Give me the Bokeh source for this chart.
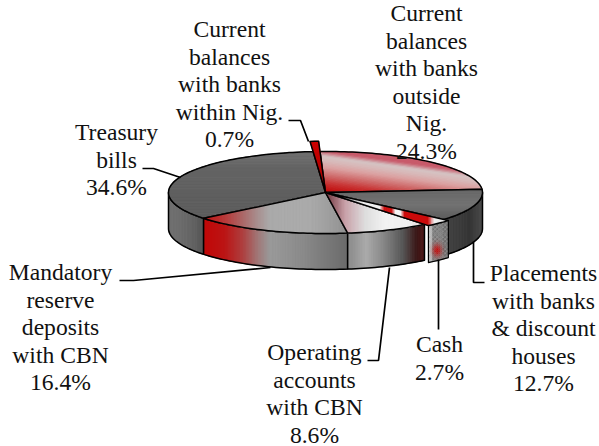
import math
from bokeh.plotting import figure
from bokeh.models import Range1d, ColumnDataSource
from bokeh.core.properties import value
from bokeh.embed import file_html
from bokeh.resources import INLINE

# ---------- data ----------
shares = [24.3, 12.7, 2.7, 8.6, 16.4, 34.6, 0.7]
keys = ["outside", "placements", "cash", "operating", "mandatory", "treasury", "within"]
label_lines = {
    "outside": ["Current", "balances", "with banks", "outside", "Nig."],
    "placements": ["Placements", "with banks", "& discount", "houses"],
    "cash": ["Cash"],
    "operating": ["Operating", "accounts", "with CBN"],
    "mandatory": ["Mandatory", "reserve", "deposits", "with CBN"],
    "treasury": ["Treasury", "bills"],
    "within": ["Current", "balances", "with banks", "within Nig."],
}
# label layout: centre x, first baseline y
label_pos = {
    "outside": (426, 22), "placements": (543, 282), "cash": (439, 353),
    "operating": (314, 361), "mandatory": (60, 281), "treasury": (116, 141),
    "within": (229, 38),
}
LINE_H = 27.5
TEXT_DY = -9.5
leaders = [
    [(142, 168), (153, 168), (180, 177)],
    [(288, 120), (300, 120), (308, 141)],
    [(119, 280), (133, 280), (270, 267)],
    [(367, 360), (378, 360), (389, 267)],
    [(438, 329), (438, 259)],
    [(484, 282), (473, 282), (473, 241)],
]

# ---------- pie geometry ----------
CX, CY, RX, RY, DEPTH = 325, 192, 157, 41, 36
START = -2.0
radial = {"within": 1.25, "cash": 1.04}

# gradient: (dx, dy, [(t, colour), ...])
top_grad = {
    "outside": (-0.14, 1, [(106, "#c85a6a"), (111, "#d5c4c4"), (116, "#d8b8b8"), (122, "#dba0a0"), (130, "#cf6a6a"), (138, "#c83030"), (146, "#c00808")]),
    "placements": (0, 1, [(188, "#666666"), (205, "#727272"), (220, "#5a5a5a")]),
    "cash": (1, 0, [(325, "#555555"), (345, "#999999"), (363, "#eeeeee"), (380, "#f2f2f2"), (384, "#cc1111"), (392, "#cc1111"), (395, "#f4f4f4"), (401, "#f4f4f4"), (404, "#cc0a0a"), (428, "#cc0a0a"), (434, "#f0f0f0"), (450, "#dddddd")]),
    "operating": (1, 0, [(328, "#7a4048"), (345, "#c8a0a8"), (365, "#dddddd"), (385, "#f2f2f2"), (410, "#eeeeee"), (428, "#e0c8c8")]),
    "mandatory": (1, 0, [(207, "#c01818"), (225, "#b83a3a"), (243, "#aa6868"), (258, "#a89090"), (270, "#aaaaaa"), (310, "#aaaaaa"), (350, "#909090")]),
    "treasury": (0, 1, [(151, "#707070"), (170, "#636363"), (220, "#5c5c5c")]),
    "within": (0, 1, [(141, "#d00000"), (192, "#a00000")]),
}
wall_grad = {
    "placements": (1, 0, [(445, "#444444"), (470, "#353535"), (482, "#4a4a4a")]),
    "operating": (1, 0, [(352, "#909090"), (366, "#aaaaaa"), (383, "#888888"), (403, "#555555"), (417, "#3a1515"), (430, "#602020")]),
    "mandatory": (1, 0, [(207, "#c00808"), (225, "#bb1515"), (243, "#ad4040"), (258, "#a07878"), (270, "#999999"), (290, "#909090"), (310, "#858585"), (340, "#707070"), (352, "#666666")]),
    "treasury": (1, 0, [(168, "#727272"), (190, "#666666"), (207, "#505050")]),
}


def rgb(h):
    return tuple(int(h[i:i + 2], 16) for i in (1, 3, 5))


def mix(a, b, f):
    a, b = rgb(a), rgb(b)
    return "#%02x%02x%02x" % tuple(int(round(a[i] + (b[i] - a[i]) * f)) for i in range(3))


def clip(poly, fn, t, keep_above):
    out = []
    n = len(poly)
    for i in range(n):
        p, q = poly[i], poly[(i + 1) % n]
        vp, vq = fn(p) - t, fn(q) - t
        if not keep_above:
            vp, vq = -vp, -vq
        if vp >= 0:
            out.append(p)
        if (vp >= 0) != (vq >= 0):
            f = vp / (vp - vq)
            out.append((p[0] + (q[0] - p[0]) * f, p[1] + (q[1] - p[1]) * f))
    return out


xs, ys, fills, falpha, lines, lwidth = [], [], [], [], [], []


def emit(poly, fill, alpha, line, lw):
    xs.append([p[0] for p in poly])
    ys.append([p[1] for p in poly])
    fills.append(fill)
    falpha.append(alpha)
    lines.append(line)
    lwidth.append(lw)


def paint(poly, grad):
    dx, dy, stops = grad
    fn = lambda p: dx * p[0] + dy * p[1]
    lo, hi = min(map(fn, poly)), max(map(fn, poly))
    bands = [(-1e9, stops[0][0], stops[0][1])]
    for (t0, c0), (t1, c1) in zip(stops, stops[1:]):
        n = max(1, int(math.ceil((t1 - t0) / 1.5)))
        for k in range(n):
            a = t0 + (t1 - t0) * k / n
            b = t0 + (t1 - t0) * (k + 1) / n
            bands.append((a, b, mix(c0, c1, (k + .5) / n)))
    bands.append((stops[-1][0], 1e9, stops[-1][1]))
    for a, b, col in bands:
        if b < lo or a > hi:
            continue
        piece = clip(clip(poly, fn, a, True), fn, b, False)
        if len(piece) >= 3:
            emit(piece, col, 1, col, 1.0)


def rim(deg, k=1.0):
    r = math.radians(deg)
    return (CX + RX * k * math.sin(r), CY - RY * k * math.cos(r))


def arc(a, b, k=1.0):
    n = max(2, int(abs(b - a) / 1.5) + 1)
    return [rim(a + (b - a) * i / n, k) for i in range(n + 1)]


def outline(poly, lw=1.5):
    emit(poly, "#000000", 0, "#000000", lw)


# slice angles from the shares
angles = {}
a = START
for key, v in zip(keys, shares):
    angles[key] = (a, a + v * 3.6)
    a += v * 3.6

# back-to-front draw order
order = ["treasury", "outside", "placements", "mandatory", "operating", "cash", "within"]
for key in order:
    a0, a1 = angles[key]
    k = radial.get(key, 1.0)
    # wall (only the front half of the rim shows)
    v0, v1 = max(a0, 90), min(a1, 270)
    if v1 > v0 and key in wall_grad:
        front = arc(v0, v1, k)
        wall = front + [(x, y + DEPTH) for x, y in reversed(front)]
        paint(wall, wall_grad[key])
        outline(wall)
    if key == "cash":
        front = arc(a0, a1, k)
        wall = front + [(x, y + DEPTH + 1) for x, y in reversed(front)]
        xmin, xmax = min(p[0] for p in wall), max(p[0] for p in wall)
        ymin, ymax = min(p[1] for p in wall), max(p[1] for p in wall)
        fx = lambda p: p[0]
        fy = lambda p: p[1]
        x = xmin
        while x < xmax:
            col = clip(clip(wall, fx, x, True), fx, x + 2, False)
            y = ymin
            while y < ymax and len(col) >= 3:
                cell = clip(clip(col, fy, y, True), fy, y + 2, False)
                if len(cell) >= 3:
                    tex = 20 * math.sin(x * 1.9) * math.sin(y * 1.3)
                    g = 128 + tex + (55 if x < xmin + 3 else 0)
                    red = math.exp(-(((x - 436) / 4.5) ** 2 + ((y - 249) / 6.0) ** 2))
                    r_, g_, b_ = g + (190 - g) * red, g - g * 0.85 * red, g - g * 0.85 * red
                    c = "#%02x%02x%02x" % (int(r_), int(g_), int(b_))
                    emit(cell, c, 1, c, 0.5)
                y += 2
            x += 2
        outline(wall, 1.2)
    # top face
    top = [(CX, CY)] + arc(a0, a1, k)
    paint(top, top_grad[key])
    outline(top)

# ---------- figure ----------
p = figure(width=599, height=446, x_range=Range1d(0, 599), y_range=Range1d(446, 0),
           toolbar_location=None, output_backend="svg", min_border=0)
p.styles = {"position": "absolute", "left": "0px", "top": "0px"}
p.axis.visible = False
p.grid.visible = False
p.outline_line_color = None
p.background_fill_color = "#ffffff"
p.border_fill_color = "#ffffff"

p.patches("xs", "ys", source=ColumnDataSource(dict(xs=xs, ys=ys, fc=fills, fa=falpha, lc=lines, lw=lwidth)),
          fill_color="fc", fill_alpha="fa", line_color="lc", line_width="lw", line_join="round")

for seg in leaders:
    p.line([q[0] for q in seg], [q[1] for q in seg], line_color="#000000", line_width=1.7)

tx, ty, tt = [], [], []
for key, v in zip(keys, shares):
    cx, y0 = label_pos[key]
    rows = label_lines[key] + [f"{v}%"]
    for i, row in enumerate(rows):
        tx.append(cx)
        ty.append(y0 + i * LINE_H + TEXT_DY)
        tt.append(row)
p.text(tx, ty, text=tt, text_font=value("Liberation Serif"), text_font_size="23.6px",
       text_align="center", text_baseline="alphabetic", text_color="#111111")

open("out.html", "w").write(file_html(p, INLINE))
